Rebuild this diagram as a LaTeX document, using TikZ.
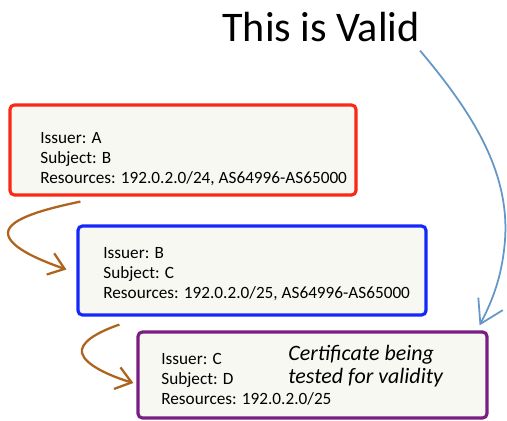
\documentclass[tikz,border=0pt]{standalone}
\usepackage{fontspec}
\setmainfont{Carlito}
\usepackage{tikz}
\usetikzlibrary{arrows.meta,calc}
\usepackage{xcolor}
\definecolor{certred}{RGB}{250,40,20}
\definecolor{certblue}{RGB}{20,40,250}
\definecolor{certpurple}{RGB}{120,30,130}
\definecolor{boxfill}{RGB}{248,248,243}
\definecolor{chainbrown}{RGB}{175,100,30}
\definecolor{validblue}{RGB}{100,150,200}

\begin{document}
\begin{tikzpicture}[x=0.02cm, y=-0.02cm, font=\fontsize{9.8}{12}\selectfont,
  certbox/.style={rectangle, fill=boxfill, line width=1.8pt, rounded corners=2.5pt, inner sep=0pt},
  certtext/.style={anchor=north west, align=left, inner sep=0pt, font=\fontsize{9.8}{11.4}\selectfont},
  chain/.style={-{Straight Barb[length=3mm,width=4.5mm]}, line width=1.3pt, chainbrown}]
\useasboundingbox (0,0) rectangle (507,421);
% title
\node[anchor=base west, inner sep=0pt, font=\fontsize{24}{28}\selectfont] (title) at (222,42) {This is Valid};
% certificates
\node[certbox, draw=certred, minimum width=346*0.02cm, minimum height=90*0.02cm] (certA) at (183,150) {};
\node[certbox, draw=certblue, minimum width=348*0.02cm, minimum height=89*0.02cm] (certB) at (252,270.5) {};
\node[certbox, draw=certpurple, minimum width=349*0.02cm, minimum height=86*0.02cm] (certC) at (312.5,375) {};
\node[certtext] (textA) at (40,132) {Issuer: A\\Subject: B\\Resources: 192.0.2.0/24, AS64996-AS65000};
\node[certtext] (textB) at (103,247) {Issuer: B\\Subject: C\\Resources: 192.0.2.0/25, AS64996-AS65000};
\node[certtext] (textC) at (161,353) {Issuer: C\\Subject: D\\Resources: 192.0.2.0/25};
\node[anchor=north west, align=left, inner sep=0pt, font=\fontsize{12.5}{13}\selectfont\itshape] (note) at (288,345) {Certificate being\\tested for validity};
% chain arrows
\draw[chain] ($(certA.south west)+(72,5)$) .. controls (50,208) and (8,218) .. (8,233)
  .. controls (8,248) and (45,262) .. ($(certB.west)+(-10,-1)$);
\draw[chain] ($(certB.south west)+(43,8)$) .. controls (95,333) and (80,343) .. (82,353)
  .. controls (85,365) and (110,376) .. ($(certC.west)+(-3,8)$);
% validity arrow
\draw[-{Straight Barb[length=4.5mm,width=5.5mm]}, line width=1pt, validblue]
  ($(title.south east)+(0,8)$) .. controls (470,110) and (510,170) .. (505,240)
  .. controls (502,280) and (490,305) .. ($(certC.north east)+(-9,-5)$);
\end{tikzpicture}
\end{document}
